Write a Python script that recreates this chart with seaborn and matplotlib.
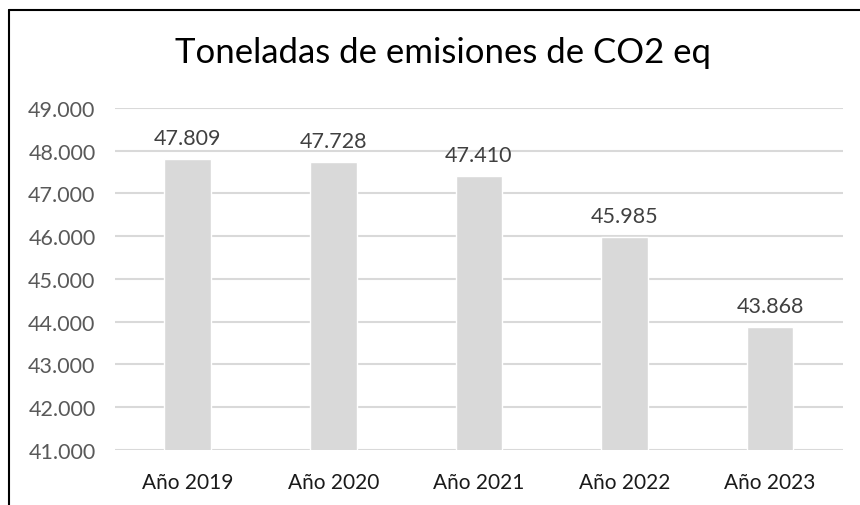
import matplotlib
matplotlib.use("Agg")
import matplotlib.pyplot as plt
import seaborn as sns
import pandas as pd
from matplotlib.ticker import FuncFormatter, MultipleLocator
from matplotlib.lines import Line2D

# Datos
anios = ["Año 2019", "Año 2020", "Año 2021", "Año 2022", "Año 2023"]
emisiones = [47809, 47728, 47410, 45985, 43868]

df = pd.DataFrame({"anio": anios, "emisiones": emisiones})

sns.set_style("white")
plt.rcParams["font.family"] = ["Lato", "DejaVu Sans"]

fig = plt.figure(figsize=(8.6, 5.06), dpi=100)
ax = fig.add_axes([0.1337, 0.1087, 0.8465, 0.6759])

sns.barplot(data=df, x="anio", y="emisiones", color="#D9D9D9",
            saturation=1, width=0.32, ax=ax, zorder=3)

ax.set_ylim(41000, 49000)
ax.yaxis.set_major_locator(MultipleLocator(1000))
ax.yaxis.set_major_formatter(FuncFormatter(lambda v, p: f"{int(v):,}".replace(",", ".")))
ax.grid(axis="y", color="#D9D9D9", linewidth=1.5, zorder=0)
ax.set_axisbelow(True)
sns.despine(ax=ax, left=True, bottom=True)
ax.tick_params(axis="both", length=0)
ax.tick_params(axis="y", labelsize=15.5, labelcolor="#595959", pad=14)
ax.tick_params(axis="x", labelsize=15, labelcolor="#1a1a1a", pad=16)
ax.set_xlabel("")
ax.set_ylabel("")

# Etiquetas de datos
for i, v in enumerate(emisiones):
    ax.annotate(f"{v:,}".replace(",", "."), (i, v), xytext=(0, 8),
                textcoords="offset points", ha="center", va="bottom",
                fontsize=15.5, color="#404040")

fig.text(0.515, 0.895, "Toneladas de emisiones de CO2 eq", ha="center",
         va="center", fontsize=25, color="#000000")

# Borde del gráfico (recortado a la derecha y abajo)
fig.add_artist(Line2D([9 / 860, 9 / 860], [0, 1 - 11 / 506], color="black", lw=1.5,
                      transform=fig.transFigure))
fig.add_artist(Line2D([9 / 860, 1], [1 - 11 / 506, 1 - 11 / 506], color="black", lw=1.5,
                      transform=fig.transFigure))

plt.savefig("out.png", dpi=100, facecolor="white")
